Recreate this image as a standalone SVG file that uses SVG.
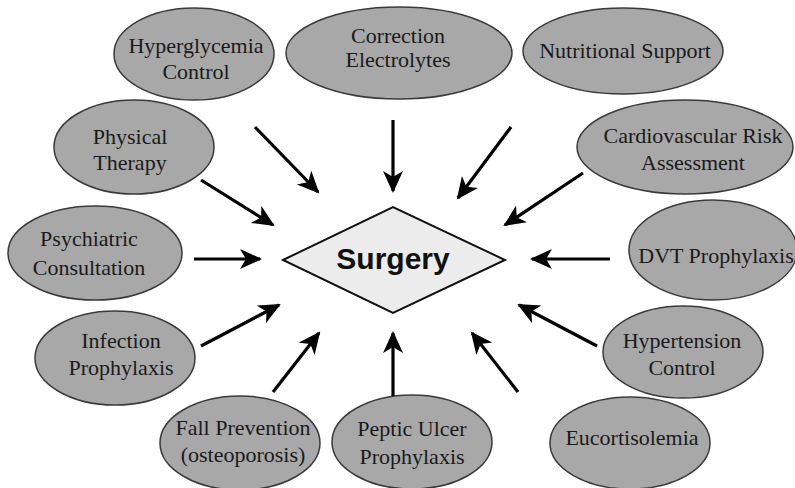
<svg xmlns="http://www.w3.org/2000/svg" width="795" height="488" viewBox="0 0 795 488">
<style>
.n ellipse{fill:#a8a8a8;stroke:#3a3a3a;stroke-width:1.5}
.n text{font-family:"Liberation Serif","Times New Roman",serif;font-size:22px;fill:#1a1a1a;text-anchor:middle}
.c line{stroke:#000;stroke-width:3.2;marker-end:url(#ah)}
</style>
<defs>
<marker id="ah" markerUnits="userSpaceOnUse" markerWidth="24" markerHeight="22" refX="20" refY="10" orient="auto">
<path d="M0,0 L22,10 L0,20 L6,10 Z" fill="#000"/>
</marker>
</defs>
<rect width="795" height="488" fill="#fff"/>
<g id="surgery">
<polygon points="283,260 393,207 505,260 393,313" fill="#ececec" stroke="#111" stroke-width="2"/>
<text x="393" y="269" font-family="Liberation Sans,Arial,sans-serif" font-size="30" font-weight="bold" text-anchor="middle" fill="#111">Surgery</text>
</g>
<g id="hyperglycemia" class="n"><ellipse cx="194" cy="54" rx="80" ry="46"/><text x="196" y="53">Hyperglycemia</text><text x="196" y="79">Control</text></g>
<g id="correction" class="n"><ellipse cx="399" cy="53" rx="113" ry="46"/><text x="398" y="43" font-size="20.5">Correction</text><text x="398" y="67" font-size="20.5">Electrolytes</text></g>
<g id="nutritional" class="n"><ellipse cx="623" cy="51" rx="100" ry="43"/><text x="625" y="58">Nutritional Support</text></g>
<g id="physical" class="n"><ellipse cx="134" cy="147" rx="80" ry="47"/><text x="130" y="144">Physical</text><text x="130" y="170">Therapy</text></g>
<g id="cardio" class="n"><ellipse cx="685" cy="147" rx="108" ry="47"/><text x="693" y="143">Cardiovascular Risk</text><text x="693" y="170">Assessment</text></g>
<g id="psychiatric" class="n"><ellipse cx="95" cy="253" rx="87" ry="47"/><text x="89" y="246">Psychiatric</text><text x="89" y="275">Consultation</text></g>
<g id="dvt" class="n"><ellipse cx="713" cy="250" rx="84" ry="50"/><text x="716" y="263">DVT Prophylaxis</text></g>
<g id="infection" class="n"><ellipse cx="115" cy="358" rx="80" ry="47"/><text x="121" y="348">Infection</text><text x="121" y="375">Prophylaxis</text></g>
<g id="hypertension" class="n"><ellipse cx="683" cy="352" rx="80" ry="46"/><text x="682" y="348">Hypertension</text><text x="682" y="375">Control</text></g>
<g id="fall" class="n"><ellipse cx="240" cy="443" rx="80" ry="47"/><text x="243" y="435">Fall Prevention</text><text x="243" y="462" font-size="20">(osteoporosis)</text></g>
<g id="peptic" class="n"><ellipse cx="412" cy="442" rx="80" ry="47"/><text x="412" y="436">Peptic Ulcer</text><text x="412" y="464">Prophylaxis</text></g>
<g id="eucortisolemia" class="n"><ellipse cx="630" cy="443" rx="80" ry="46"/><text x="632" y="445">Eucortisolemia</text></g>
<g id="connectors" class="c">
<line x1="255" y1="127" x2="318" y2="192"/>
<line x1="393" y1="120" x2="393" y2="191"/>
<line x1="511" y1="127" x2="458" y2="198"/>
<line x1="201" y1="180" x2="273" y2="225"/>
<line x1="583" y1="173" x2="505" y2="225"/>
<line x1="194" y1="259" x2="260" y2="259"/>
<line x1="610" y1="259" x2="532" y2="259"/>
<line x1="201" y1="346" x2="279" y2="305"/>
<line x1="273" y1="392" x2="319" y2="333"/>
<line x1="393" y1="396" x2="393" y2="333"/>
<line x1="518" y1="392" x2="472" y2="333"/>
<line x1="597" y1="346" x2="519" y2="305"/>
</g>
</svg>
